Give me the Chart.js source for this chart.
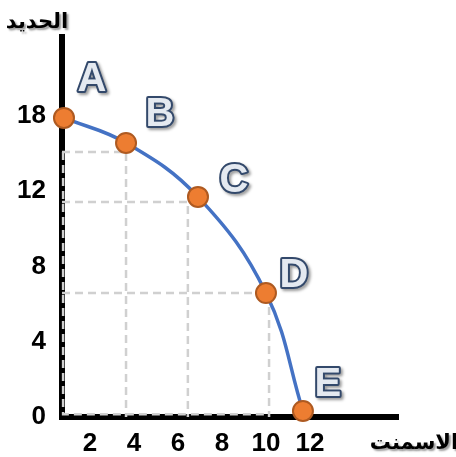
<!DOCTYPE html>
<html>
<head>
<meta charset="utf-8">
<script src="https://cdn.jsdelivr.net/npm/chart.js@4.4.1/dist/chart.umd.min.js"></script>
<style>
  html, body { margin: 0; padding: 0; background: #fff; }
  #wrap { position: relative; width: 456px; height: 457px; }
</style>
</head>
<body>
<div id="wrap"><canvas id="ppf" width="456" height="457"></canvas></div>
<script>
// points on the frontier (cement on x, iron on y)
const pointNames = ['A', 'B', 'C', 'D', 'E'];
const cementValues = [0.82, 3.64, 6.91, 10.0, 11.68];
const ironValues = [15.9, 14.57, 11.7, 6.59, 0.32];

// tick labels (the top y tick is printed as 18)
const xTickValues = [2, 4, 6, 8, 10, 12];
const xTickLabels = ['2', '4', '6', '8', '10', '12'];
const yTickValues = [0, 4, 8, 12, 16];
const yTickLabels = ['0', '4', '8', '12', '18'];

// dashed guide lines
const guideCement = [3.64, 6.45, 10.14];
const guideIron = [14.09, 11.43, 6.59];
const guideFloor = 0.15;

const xMin = 0.73, xMax = 16;
const yMin = 0, yMax = 20.2;

const axisTitleY = 'الحديد';
const axisTitleX = 'الاسمنت';

const tickFont = { family: "'Liberation Sans', Arial, sans-serif", size: 26, weight: 'bold' };
const labelOffsets = [[28, -38], [34, -28], [36, -16], [28, -17], [25, -26]];

const guideStyle = {
    borderColor: '#d0d0d0',
    borderWidth: 2.5,
    borderDash: [8, 5],
    pointRadius: 0,
    fill: false,
    tension: 0,
    clip: false
};

const guideSets = guideCement.map((gx, i) => ({
    ...guideStyle,
    data: [{ x: xMin, y: guideIron[i] }, { x: gx, y: guideIron[i] }, { x: gx, y: 0 }]
}));
// dashes running along both axes
guideSets.push({
    ...guideStyle,
    data: [{ x: xMin + 0.05, y: guideIron[0] }, { x: xMin + 0.05, y: guideFloor }, { x: guideCement[2], y: guideFloor }]
});

const decorations = {
    id: 'decorations',
    afterDatasetsDraw(chart) {
        const ctx = chart.ctx;
        const meta = chart.getDatasetMeta(0);
        ctx.save();
        // letter labels next to each point
        ctx.font = "bold 40px 'Liberation Sans', Arial, sans-serif";
        ctx.textAlign = 'center';
        ctx.textBaseline = 'middle';
        ctx.lineJoin = 'round';
        meta.data.forEach((pt, i) => {
            const x = pt.x + labelOffsets[i][0];
            const y = pt.y + labelOffsets[i][1];
            ctx.shadowColor = 'rgba(0,0,0,0.4)';
            ctx.shadowOffsetX = 2;
            ctx.shadowOffsetY = 2;
            ctx.shadowBlur = 3;
            ctx.lineWidth = 4;
            ctx.strokeStyle = '#33496b';
            ctx.strokeText(pointNames[i], x, y);
            ctx.shadowColor = 'transparent';
            ctx.fillStyle = '#e4e9f0';
            ctx.fillText(pointNames[i], x, y);
        });

        // axis titles
        ctx.font = "bold 21px 'DejaVu Sans', sans-serif";
        ctx.fillStyle = '#000';
        ctx.shadowColor = 'rgba(0,0,0,0.4)';
        ctx.shadowOffsetX = 2;
        ctx.shadowOffsetY = 2;
        ctx.shadowBlur = 2;
        ctx.fillText(axisTitleY, 37, 23);
        ctx.fillText(axisTitleX, 414, 444);
        ctx.restore();
    }
};

new Chart(document.getElementById('ppf'), {
    type: 'line',
    data: {
        datasets: [
            {
                data: cementValues.map((v, i) => ({ x: v, y: ironValues[i] })),
                borderColor: '#4472c4',
                borderWidth: 3.5,
                tension: 0.4,
                fill: false,
                pointRadius: 10,
                pointBackgroundColor: '#ed7d31',
                pointBorderColor: '#ae5a21',
                pointBorderWidth: 2,
                clip: false
            },
            ...guideSets
        ]
    },
    options: {
        responsive: false,
        animation: false,
        devicePixelRatio: 1,
        layout: { padding: { top: 37, right: 58, left: 0, bottom: 0 } },
        plugins: { legend: { display: false }, tooltip: { enabled: false } },
        scales: {
            x: {
                type: 'linear',
                min: xMin,
                max: xMax,
                grid: { display: false },
                border: { display: true, color: '#000', width: 6 },
                ticks: {
                    color: '#000',
                    font: tickFont,
                    padding: 3,
                    callback: (v) => xTickLabels[xTickValues.indexOf(v)] ?? ''
                },
                afterBuildTicks: (scale) => { scale.ticks = xTickValues.map(v => ({ value: v })); },
                afterFit: (scale) => { scale.height = 40; }
            },
            y: {
                type: 'linear',
                min: yMin,
                max: yMax,
                grid: { display: false },
                border: { display: true, color: '#000', width: 6 },
                ticks: {
                    color: '#000',
                    font: tickFont,
                    padding: 8,
                    callback: (v) => yTickLabels[yTickValues.indexOf(v)] ?? ''
                },
                afterBuildTicks: (scale) => { scale.ticks = yTickValues.map(v => ({ value: v })); },
                afterFit: (scale) => { scale.width = 62; }
            }
        }
    },
    plugins: [decorations]
});
</script>
</body>
</html>
